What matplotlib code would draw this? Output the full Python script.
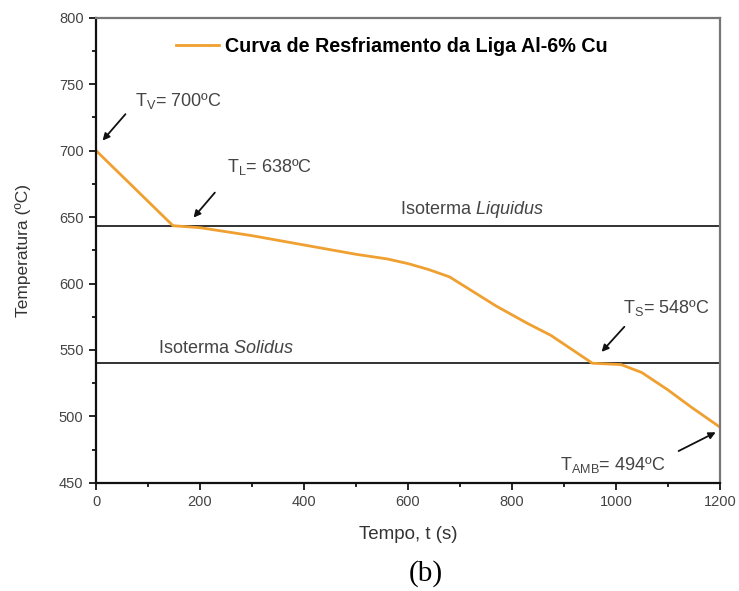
import matplotlib.pyplot as plt
from matplotlib.ticker import MultipleLocator

plt.rcParams['font.family'] = ['Liberation Sans', 'DejaVu Sans']
plt.rcParams['mathtext.fontset'] = 'custom'
plt.rcParams['mathtext.it'] = 'Liberation Sans:italic'
plt.rcParams['mathtext.rm'] = 'Liberation Sans'

# cooling curve
tempo = [0, 148, 200, 300, 400, 500, 560, 600, 640, 680, 770, 830, 875, 955, 1010, 1050, 1100, 1145, 1200]
temperatura = [700, 643.5, 642, 636, 629, 622, 618.5, 615, 610.5, 605, 583, 570, 561, 540, 539, 533, 520, 507, 492]

t_liquidus = 643
t_solidus = 540

fig = plt.figure(figsize=(7.39, 5.91), dpi=100)
ax = fig.add_axes([0.130, 0.183, 0.844, 0.787])

ax.axhline(t_liquidus, color='#222222', lw=1.3, zorder=1)
ax.axhline(t_solidus, color='#222222', lw=1.3, zorder=1)
ax.plot(tempo, temperatura, color='#F0A030', lw=2, zorder=2,
        label='Curva de Resfriamento da Liga Al-6% Cu')

ax.set_xlim(0, 1200)
ax.set_ylim(450, 800)
ax.xaxis.set_major_locator(MultipleLocator(200))
ax.xaxis.set_minor_locator(MultipleLocator(100))
ax.yaxis.set_major_locator(MultipleLocator(50))
ax.yaxis.set_minor_locator(MultipleLocator(25))
ax.tick_params(which='both', direction='out', top=False, right=False,
               labelsize=10.5, labelcolor='#444444', width=1.2, pad=4)
ax.tick_params(which='major', length=5)
ax.tick_params(which='minor', length=3)
for s in ['left', 'bottom']:
    ax.spines[s].set_linewidth(1.6)
    ax.spines[s].set_color('#111111')
for s in ['top', 'right']:
    ax.spines[s].set_linewidth(1.6)
    ax.spines[s].set_color('#777777')

ax.set_xlabel('Tempo, t (s)', fontsize=13.5, color='#333333', labelpad=12)
ax.set_ylabel('Temperatura (ºC)', fontsize=12.5, color='#333333', labelpad=20)

leg = ax.legend(loc='center', bbox_to_anchor=(0.474, 0.939), frameon=False,
                handlelength=2.2, handletextpad=0.3,
                prop={'weight': 'bold', 'size': 14.2})

txt = dict(fontsize=13, color='#444444', va='center')
arr = dict(arrowstyle='-|>', color='#111111', lw=1.3, mutation_scale=10)

ax.text(75, 737, r'T$_\mathregular{V}$= 700ºC', **txt)
ax.annotate('', xy=(9, 706), xytext=(60, 729), arrowprops=arr)

ax.text(251, 688, r'T$_\mathregular{L}$= 638ºC', **txt)
ax.annotate('', xy=(184, 648), xytext=(232, 670), arrowprops=arr)

ax.text(1013, 581.5, r'T$_\mathregular{S}$= 548ºC', **txt)
ax.annotate('', xy=(969, 547), xytext=(1020, 569), arrowprops=arr)

ax.text(892, 463.5, r'T$_\mathregular{AMB}$= 494ºC', **txt)
ax.annotate('', xy=(1197, 489), xytext=(1116, 473), arrowprops=arr)

ax.text(723, t_liquidus + 5, 'Isoterma $\\mathit{Liquidus}$', ha='center', va='bottom',
        fontsize=13, color='#444444')
ax.text(250, t_solidus + 5, 'Isoterma $\\mathit{Solidus}$', ha='center', va='bottom',
        fontsize=13, color='#444444')

fig.text(0.576, 0.03, '(b)', family='Liberation Serif', fontsize=21, ha='center', va='center')

fig.savefig('out.png', dpi=100)
